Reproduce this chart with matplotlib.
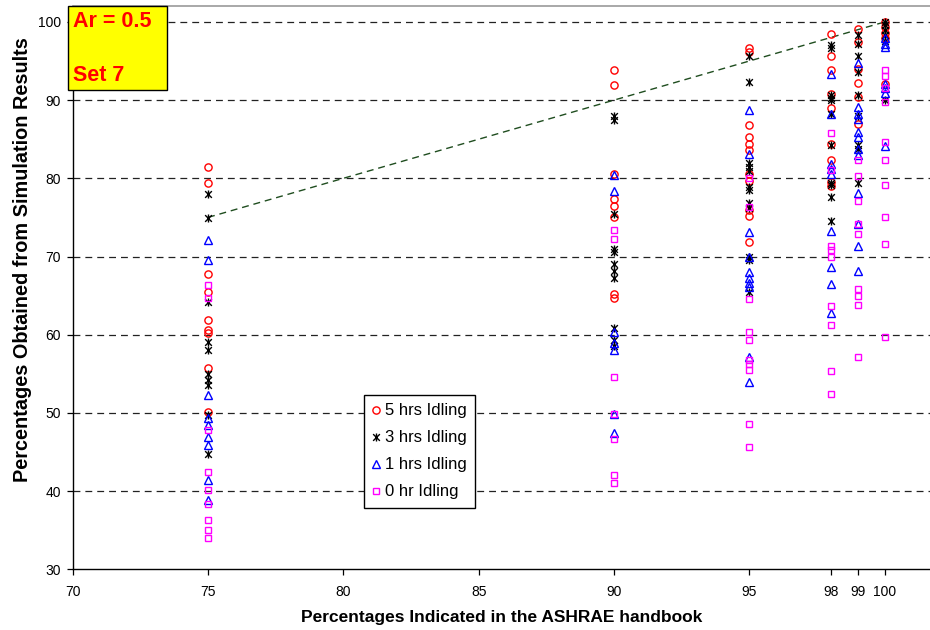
import matplotlib
matplotlib.use("Agg")
import matplotlib.pyplot as plt
from matplotlib.path import Path
from matplotlib.patches import Rectangle
from matplotlib.lines import Line2D

plt.rcParams['font.family'] = ['Liberation Sans', 'DejaVu Sans']

# ASHRAE handbook percentage levels (x positions of the columns)
levels = [75, 90, 95, 98, 99, 100]
xticks = [70, 75, 80, 85, 90, 95, 98, 99, 100]

# Simulation percentages for each idling scenario, one list per ASHRAE level
idle5 = [
    [81.5, 79.4, 67.8, 65.5, 61.9, 60.6, 60.2, 55.8, 50.1],
    [93.9, 91.9, 80.5, 77.3, 76.4, 75.0, 65.2, 64.7],
    [96.7, 96.2, 86.8, 85.3, 84.4, 83.6, 80.6, 79.7, 75.9, 75.2, 71.8],
    [98.5, 95.7, 93.8, 90.8, 89.0, 84.4, 82.4, 79.5, 79.0],
    [99.1, 97.4, 94.0, 92.2, 90.4, 86.9],
    [100.0, 99.4, 98.6, 97.9, 92.1],
]
idle3 = [
    [78.0, 74.9, 64.2, 59.1, 58.0, 55.0, 54.2, 53.6, 49.7, 44.8],
    [88.0, 87.4, 75.4, 71.0, 70.6, 69.0, 68.2, 67.2, 60.8, 59.3, 58.5],
    [95.6, 92.3, 81.9, 81.5, 80.9, 78.9, 78.5, 76.8, 76.2, 69.9, 69.5, 65.5],
    [97.0, 96.7, 90.6, 90.3, 90.0, 88.2, 84.3, 79.4, 79.1, 77.6, 74.5],
    [98.3, 97.2, 95.7, 93.6, 90.6, 88.0, 84.2, 83.8, 79.4],
    [100.0, 99.6, 99.0, 98.3, 97.6, 90.0],
]
idle1 = [
    [72.1, 69.5, 52.3, 49.3, 48.5, 46.9, 45.9, 41.4, 38.8],
    [80.4, 78.4, 60.4, 58.9, 58.0, 49.9, 47.4],
    [88.7, 83.1, 73.1, 70.0, 68.0, 67.2, 66.6, 66.1, 57.2, 54.0],
    [93.3, 88.2, 81.8, 81.2, 80.6, 73.3, 68.7, 66.5, 62.8],
    [94.7, 89.1, 88.2, 87.6, 85.9, 85.3, 83.8, 83.0, 78.1, 74.2, 71.4, 68.1],
    [98.0, 97.2, 96.8, 92.0, 91.6, 90.9, 84.1],
]
idle0 = [
    [66.3, 64.7, 47.8, 42.5, 40.1, 38.4, 36.3, 35.0, 34.0],
    [73.4, 72.2, 54.6, 49.9, 46.7, 42.0, 41.0],
    [80.1, 76.3, 64.6, 60.4, 59.3, 56.8, 56.2, 55.5, 48.6, 45.6],
    [85.8, 81.0, 71.4, 70.8, 69.9, 63.7, 61.2, 55.4, 52.4],
    [82.3, 80.3, 77.1, 74.1, 72.9, 65.9, 65.0, 63.8, 57.1],
    [93.8, 93.1, 91.5, 89.7, 84.6, 82.4, 79.1, 75.1, 71.6, 59.7],
]
labels = ["5 hrs Idling", "3 hrs Idling", "1 hrs Idling", "0 hr Idling"]

# reference line: simulation equals handbook
ref_x = [75, 100]
ref_y = [75, 100]

# asterisk marker: an X crossed by a vertical bar
star = Path([(-1, -1), (1, 1), (-1, 1), (1, -1), (0, -1.2), (0, 1.2)],
            [Path.MOVETO, Path.LINETO, Path.MOVETO, Path.LINETO,
             Path.MOVETO, Path.LINETO])

W, H = 930, 630
fig = plt.figure(figsize=(W / 100, H / 100), dpi=100)
ax_l, ax_b, ax_t = 72.7, 569.3, 5.7
ax = fig.add_axes([ax_l / W, (H - ax_b) / H, 1 - ax_l / W, (ax_b - ax_t) / H])

ax.set_xlim(70, 70 + (W - ax_l) / 27.07)
ax.set_ylim(30, 30 + (ax_b - ax_t) / 7.82)

ax.set_yticks(range(30, 101, 10))
ax.set_xticks(xticks)
ax.tick_params(axis='both', labelsize=10, length=4.5, width=0.9, color='black',
               direction='out')
ax.tick_params(axis='x', pad=7)
ax.tick_params(axis='y', pad=4)
for y in range(40, 101, 10):
    ax.axhline(y, color='#222222', lw=0.9, ls=(0, (5.5, 4)), zorder=1)

for side in ['left', 'bottom']:
    ax.spines[side].set_color('black')
    ax.spines[side].set_linewidth(1.0)
ax.spines['top'].set_color('#9a9a9a')
ax.spines['top'].set_linewidth(1.2)
ax.spines['right'].set_visible(False)

ax.plot(ref_x, ref_y, color='#1f4d1f', lw=1.0, ls=(0, (5, 3.5)), zorder=2)

styles = [
    dict(marker='o', color='#ff0000', ms=5.2),
    dict(marker=star, color='#000000', ms=5.8),
    dict(marker='^', color='#0000ff', ms=5.4),
    dict(marker='s', color='#ff00ff', ms=4.8),
]
series = [idle5, idle3, idle1, idle0]
handles = []
for data, st, lab in zip(series, styles, labels):
    xs, ys = [], []
    for lvl, vals in zip(levels, data):
        xs += [lvl] * len(vals)
        ys += vals
    ax.plot(xs, ys, ls='none', marker=st['marker'], ms=st['ms'],
            mfc='none', mec=st['color'], mew=1.0, zorder=3)
    handles.append(Line2D([], [], ls='none', marker=st['marker'], ms=st['ms'],
                          mfc='none', mec=st['color'], mew=1.0, label=lab))

leg = ax.legend(handles=handles, loc='upper left',
                bbox_to_anchor=(364.3 / W, 1 - 395 / H),
                bbox_transform=fig.transFigure, fontsize=12, frameon=True,
                fancybox=False, edgecolor='black', framealpha=1,
                borderaxespad=0, borderpad=0.5, handlelength=0.45,
                handletextpad=0.3, labelspacing=0.72)
leg.get_frame().set_linewidth(1.0)

ax.set_xlabel("Percentages Indicated in the ASHRAE handbook",
              fontsize=12.5, fontweight='bold', labelpad=8)
fig.text(23 / W, 1 - 260 / H, "Percentages Obtained from Simulation Results",
         fontsize=14.3, fontweight='bold', rotation=90, ha='center', va='center')

# yellow annotation box in the upper-left corner
fig.patches.append(Rectangle((68.3 / W, 1 - 90 / H), 99 / W, 84.3 / H,
                             transform=fig.transFigure, facecolor='#ffff00',
                             edgecolor='black', lw=1.0, zorder=5))
fig.text(72.7 / W, 1 - 21.7 / H, "Ar = 0.5", color='#ff0000', fontsize=15.5,
         fontweight='bold', ha='left', va='center', zorder=6)
fig.text(72.7 / W, 1 - 75.7 / H, "Set 7", color='#ff0000', fontsize=15.5,
         fontweight='bold', ha='left', va='center', zorder=6)

fig.savefig("out.png", dpi=100)
